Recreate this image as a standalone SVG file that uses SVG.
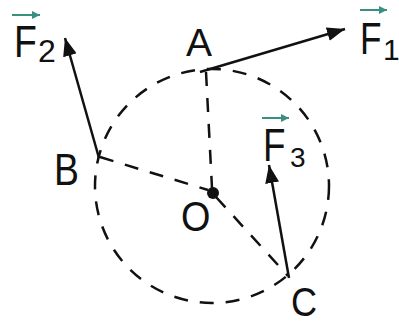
<svg xmlns="http://www.w3.org/2000/svg" width="399" height="324" viewBox="0 0 399 324">
<style>
.lbl{font-family:"Liberation Sans",Arial,sans-serif;fill:#111;}
.dash{fill:none;stroke:#111;stroke-width:2.5;stroke-dasharray:14 12;}
.vec{fill:none;stroke:#111;stroke-width:2.5;}
.ov{fill:none;stroke:#3a8f80;stroke-width:2;}
</style>
<defs>
<marker id="ah" markerUnits="userSpaceOnUse" markerWidth="20" markerHeight="14" refX="18" refY="7" orient="auto">
<path d="M0,0 L18,7 L0,14 Z" fill="#111"/>
</marker>
<marker id="sah" markerUnits="userSpaceOnUse" markerWidth="10" markerHeight="10" refX="8" refY="4" orient="auto">
<path d="M0,0 L8,4 L0,8 Z" fill="#3a8f80"/>
</marker>
</defs>
<rect width="399" height="324" fill="#fff"/>
<g id="circle">
<circle class="dash" cx="212" cy="186" r="117"/>
</g>
<g id="connectors">
<line class="dash" x1="206" y1="72" x2="212" y2="188"/>
<line class="dash" x1="100" y1="157" x2="208" y2="190"/>
<line class="dash" x1="216" y1="197" x2="288" y2="276"/>
<line class="vec" x1="200" y1="72" x2="345" y2="29" marker-end="url(#ah)"/>
<line class="vec" x1="99" y1="158" x2="65" y2="38" marker-end="url(#ah)"/>
<line class="vec" x1="289" y1="278" x2="269" y2="165" marker-end="url(#ah)"/>
</g>
<g id="O">
<circle cx="213" cy="193" r="6" fill="#111"/>
<text class="lbl" font-size="43" transform="translate(181,231) scale(0.88,1)">O</text>
</g>
<g id="A">
<text class="lbl" font-size="39" transform="translate(186,56)">A</text>
</g>
<g id="B">
<text class="lbl" font-size="44" transform="translate(54,185) scale(0.85,1)">B</text>
</g>
<g id="C">
<text class="lbl" font-size="41" transform="translate(291,316) scale(0.88,1)">C</text>
</g>
<g id="F1">
<line class="ov" x1="360" y1="10" x2="387" y2="10" marker-end="url(#sah)"/>
<text class="lbl" font-size="44" transform="translate(360,54) scale(0.8,1)">F</text>
<text class="lbl" font-size="30" transform="translate(383,60)">1</text>
</g>
<g id="F2">
<line class="ov" x1="12" y1="15" x2="40" y2="15" marker-end="url(#sah)"/>
<text class="lbl" font-size="44" transform="translate(14,57) scale(0.85,1)">F</text>
<text class="lbl" font-size="32" transform="translate(38,62)">2</text>
</g>
<g id="F3">
<line class="ov" x1="262" y1="118" x2="289" y2="118" marker-end="url(#sah)"/>
<text class="lbl" font-size="46" transform="translate(263,161) scale(0.8,1)">F</text>
<text class="lbl" font-size="28" transform="translate(290,167)">3</text>
</g>
</svg>
